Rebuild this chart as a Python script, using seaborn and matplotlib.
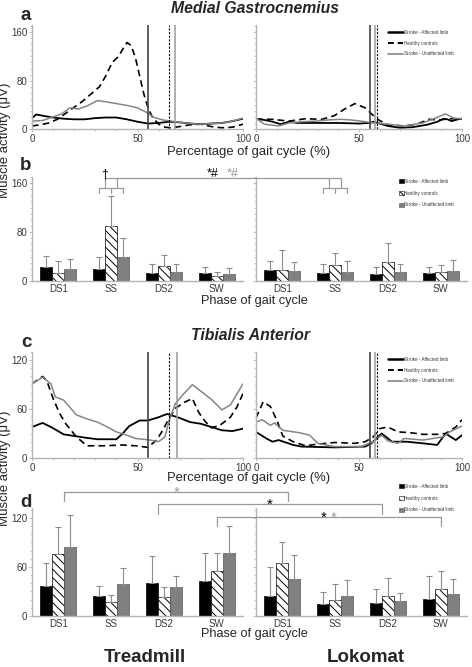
import numpy as np
import pandas as pd
import matplotlib
matplotlib.use("Agg")
import matplotlib.pyplot as plt
import seaborn as sns
from matplotlib.lines import Line2D
from matplotlib.patches import Patch
from matplotlib.ticker import MultipleLocator

# ---- data ----
groups = ["Stroke - Affected limb", "Healthy controls", "Stroke - Unaffected limb"]
phases = ["DS1", "SS", "DS2", "SW"]

# a: Medial gastrocnemius, treadmill
mg_t_aff_x = [0, 2, 5, 10, 15, 20, 25, 30, 35, 40, 45, 50, 55, 60, 65, 70, 75, 80, 85, 90, 95, 100]
mg_t_aff_y = [18, 24, 22, 19, 17, 16, 16, 18, 19, 19, 16, 12, 9, 10, 12, 11, 9, 8, 9, 10, 13, 17]
mg_t_hc_x = [0, 4, 8, 12, 16, 20, 24, 28, 32, 35, 38, 41, 43, 45, 47, 49, 51, 53, 55, 57, 60, 63, 66, 70, 75, 80, 85, 90, 95, 100]
mg_t_hc_y = [5, 7, 10, 16, 26, 36, 46, 58, 70, 88, 110, 120, 132, 143, 138, 118, 88, 58, 35, 20, 8, 3, 2, 4, 7, 8, 4, 2, 3, 8]
mg_t_un_x = [0, 5, 10, 14, 18, 22, 26, 31, 35, 40, 45, 50, 54, 58, 62, 66, 70, 75, 80, 85, 90, 95, 100]
mg_t_un_y = [13, 14, 20, 25, 35, 33, 38, 47, 45, 42, 39, 35, 28, 19, 15, 13, 11, 9, 8, 9, 10, 13, 18]

# a: Medial gastrocnemius, lokomat
mg_l_aff_x = [0, 4, 8, 12, 16, 20, 25, 30, 40, 50, 55, 57, 60, 64, 70, 76, 83, 88, 91, 93, 95, 98, 100]
mg_l_aff_y = [17, 15, 12, 8, 12, 10, 10, 10, 10, 9, 10, 12, 9, 5, 2, 3, 7, 12, 17, 16, 13, 16, 17]
mg_l_hc_x = [0, 8, 16, 24, 32, 38, 43, 48, 53, 57, 60, 64, 72, 78, 84, 89, 94, 100]
mg_l_hc_y = [16, 16, 13, 17, 16, 22, 33, 42, 35, 22, 14, 7, 5, 8, 16, 15, 17, 17]
mg_l_un_x = [0, 4, 11, 16, 22, 29, 35, 41, 46, 51, 57, 64, 72, 81, 87, 92, 96, 100]
mg_l_un_y = [18, 8, 5, 10, 12, 13, 15, 16, 15, 13, 10, 8, 5, 10, 18, 25, 18, 17]

# c: Tibialis anterior, treadmill
ta_t_aff_x = [0, 5, 9, 15, 20, 25, 31, 40, 43, 46, 51, 55, 60, 64, 69, 75, 80, 85, 90, 95, 100]
ta_t_aff_y = [38, 43, 38, 29, 27, 25, 23, 23, 30, 39, 46, 46, 50, 54, 50, 44, 42, 38, 34, 33, 36]
ta_t_hc_x = [0, 5, 7, 10, 13, 16, 21, 26, 34, 43, 49, 55, 59, 62, 64, 68, 72, 76, 79, 82, 85, 89, 94, 97, 100]
ta_t_hc_y = [91, 100, 95, 73, 55, 42, 26, 15, 15, 16, 15, 13, 22, 34, 44, 61, 68, 73, 56, 45, 37, 40, 50, 62, 79]
ta_t_un_x = [0, 5, 9, 11, 15, 21, 26, 31, 35, 40, 45, 49, 56, 60, 63, 65, 68, 72, 76, 80, 85, 90, 94, 97, 100]
ta_t_un_y = [91, 99, 91, 75, 71, 53, 48, 44, 39, 32, 28, 24, 22, 20, 26, 46, 67, 79, 90, 82, 72, 59, 65, 78, 91]

# c: Tibialis anterior, lokomat
ta_l_aff_x = [0, 5, 8, 11, 18, 22, 38, 53, 56, 61, 66, 73, 81, 88, 92, 97, 100]
ta_l_aff_y = [32, 24, 20, 22, 16, 14, 13, 14, 18, 30, 20, 20, 18, 16, 30, 22, 28]
ta_l_hc_x = [0, 3.5, 7, 10, 13, 18, 24, 30, 38, 48, 53, 57, 60, 64, 69, 75, 81, 88, 92, 97, 100]
ta_l_hc_y = [49, 69, 63, 47, 27, 20, 15, 17, 19, 18, 20, 26, 36, 38, 32, 31, 29, 29, 30, 38, 47]
ta_l_un_x = [0, 3, 7, 9, 13, 21, 26, 30, 38, 51, 54, 57, 61, 64, 69, 72, 81, 91, 94, 99, 100]
ta_l_un_y = [44, 47, 40, 43, 34, 31, 28, 18, 14, 14, 17, 20, 28, 21, 18, 24, 22, 26, 32, 38, 39]

# toe-off markers (affected, healthy, unaffected)
mg_t_toeoff = [55, 65, 68]
mg_l_toeoff = [55.5, 58.5, 58]
ta_t_toeoff = [55, 65, 68.5]
ta_l_toeoff = [55.5, 58.5, 58]

# b: MG bars, mean and upper SD
mg_t_mean = [[23, 20, 13, 13], [13, 90, 24, 8], [20, 39, 15, 11]]
mg_t_sd = [[18, 19, 15, 10], [20, 49, 18, 7], [16, 31, 13, 10]]
mg_l_mean = [[18, 13, 11, 13], [18, 26, 31, 15], [17, 15, 15, 17]]
mg_l_sd = [[15, 14, 12, 10], [33, 19, 31, 11], [14, 18, 13, 17]]

# d: TA bars
ta_t_mean = [[37, 24, 40, 43], [76, 17, 23, 55], [84, 39, 36, 77]]
ta_t_sd = [[28, 13, 33, 34], [33, 9, 13, 22], [40, 20, 13, 33]]
ta_l_mean = [[24, 15, 16, 21], [65, 20, 24, 33], [45, 24, 18, 27]]
ta_l_sd = [[36, 14, 17, 28], [26, 19, 23, 22], [30, 20, 10, 18]]

# ---- style ----
sns.set_theme(style="ticks")
plt.rcParams['font.family'] = ['Liberation Sans', 'DejaVu Sans']
plt.rcParams['hatch.linewidth'] = 0.7

W, H = 472, 667
fig = plt.figure(figsize=(W / 100, H / 100), dpi=100)

GREY = '#858585'
AXC = '#b4b4b4'
BW = 0.68


def box(l, t, r, b):
    return [l / W, 1 - b / H, (r - l) / W, (b - t) / H]


def style(ax, ytop, major, labels):
    ax.set_ylim(0, ytop)
    ax.yaxis.set_major_locator(MultipleLocator(major))
    ax.yaxis.set_minor_locator(MultipleLocator(10))
    sns.despine(ax=ax)
    for s in ['left', 'bottom']:
        ax.spines[s].set_color(AXC)
        ax.spines[s].set_linewidth(1.0)
    ax.tick_params(which='both', direction='out', color=AXC, labelsize=7,
                   labelcolor='#3a3a3a', pad=1)
    ax.tick_params(which='major', length=2.5, width=0.6)
    ax.tick_params(which='minor', length=1.5, width=0.5)
    ax.set_xlabel('')
    ax.set_ylabel('')
    if not labels:
        ax.tick_params(axis='y', labelleft=False)


def lines_panel(ax, series, toeoff, ytop, major, labels):
    cols = ['black', 'black', GREY]
    lws = [1.3, 1.2, 1.1]
    for i, (xs, ys) in enumerate(series):
        sns.lineplot(x=xs, y=ys, ax=ax, color=cols[i], linewidth=lws[i], legend=False)
        if i == 1:
            ax.lines[-1].set_dashes([4, 2.5])
    ax.axvline(toeoff[0], color='#444444', lw=1.2)
    ax.axvline(toeoff[1], color='black', lw=0.8, ls=(0, (2, 1.3)))
    ax.axvline(toeoff[2], color='#9a9a9a', lw=1.1)
    ax.set_xlim(0, 100)
    ax.xaxis.set_major_locator(MultipleLocator(50))
    ax.xaxis.set_minor_locator(MultipleLocator(10))
    style(ax, ytop, major, labels)


def bars_panel(ax, means, sds, ytop, major, labels):
    df = pd.DataFrame({
        'phase': phases * 3,
        'group': [g for g in groups for _ in phases],
        'value': [v for row in means for v in row],
    })
    sns.barplot(data=df, x='phase', y='value', hue='group', hue_order=groups,
                order=phases, palette=['black', 'white', '#808080'], width=BW,
                saturation=1, errorbar=None, legend=False, ax=ax,
                edgecolor='black', linewidth=0.5)
    bar_sets = list(ax.containers)[:3]
    for i, cont in enumerate(bar_sets):
        xs = [b.get_x() + b.get_width() / 2 for b in cont]
        ys = [b.get_height() for b in cont]
        if i == 1:
            for b in cont:
                b.set_hatch('\\\\\\\\')
        if i == 2:
            for b in cont:
                b.set_edgecolor('#555555')
        ax.errorbar(xs, ys, yerr=[np.zeros(len(ys)), sds[i]], fmt='none',
                    ecolor='#8c8c8c', elinewidth=0.8, capsize=2, capthick=0.8)
    ax.set_xlim(-0.5, len(phases) - 0.5)
    style(ax, ytop, major, labels)
    ax.tick_params(axis='x', which='both', length=0, pad=2)


axA1 = fig.add_axes(box(32, 25, 243, 129))
axA2 = fig.add_axes(box(256, 25, 462, 129))
axB1 = fig.add_axes(box(32, 177, 243, 281))
axB2 = fig.add_axes(box(256, 177, 467, 281))
axC1 = fig.add_axes(box(32, 352, 243, 458))
axC2 = fig.add_axes(box(256, 352, 462, 458))
axD1 = fig.add_axes(box(32, 508, 243, 616))
axD2 = fig.add_axes(box(256, 508, 467, 616))

lines_panel(axA1, [(mg_t_aff_x, mg_t_aff_y), (mg_t_hc_x, mg_t_hc_y), (mg_t_un_x, mg_t_un_y)],
            mg_t_toeoff, 172, 80, True)
lines_panel(axA2, [(mg_l_aff_x, mg_l_aff_y), (mg_l_hc_x, mg_l_hc_y), (mg_l_un_x, mg_l_un_y)],
            mg_l_toeoff, 172, 80, False)
lines_panel(axC1, [(ta_t_aff_x, ta_t_aff_y), (ta_t_hc_x, ta_t_hc_y), (ta_t_un_x, ta_t_un_y)],
            ta_t_toeoff, 130, 60, True)
lines_panel(axC2, [(ta_l_aff_x, ta_l_aff_y), (ta_l_hc_x, ta_l_hc_y), (ta_l_un_x, ta_l_un_y)],
            ta_l_toeoff, 130, 60, False)

bars_panel(axB1, mg_t_mean, mg_t_sd, 170, 80, True)
bars_panel(axB2, mg_l_mean, mg_l_sd, 170, 80, False)
bars_panel(axD1, ta_t_mean, ta_t_sd, 132, 60, True)
bars_panel(axD2, ta_l_mean, ta_l_sd, 132, 60, False)


# ---- significance brackets ----
def fpt(ax, x, y):
    return fig.transFigure.inverted().transform(ax.transData.transform((x, y)))


def seg(ax1, p1, ax2, p2, color='#9a9a9a'):
    a = fpt(ax1, *p1)
    b = fpt(ax2, *p2)
    fig.add_artist(Line2D([a[0], b[0]], [a[1], b[1]], transform=fig.transFigure,
                          color=color, lw=0.9))


bw = BW / 3
# b: SS comparison between the two conditions
for ax in (axB1, axB2):
    seg(ax, (1 - bw, 152), ax, (1 + bw, 152))
    for xx in (1 - bw, 1, 1 + bw):
        seg(ax, (xx, 152), ax, (xx, 144))
    for xx in (1 - bw / 2, 1 + bw / 2):
        seg(ax, (xx, 152), ax, (xx, 168))
seg(axB1, (1 - bw / 2, 168), axB2, (1 + bw / 2, 168))
p = fpt(axB1, 1 - bw / 2, 168)
fig.text(p[0], p[1] + 1 / H, '†', ha='center', va='baseline', fontsize=9, color='black')
l = fpt(axB1, 1 - bw / 2, 168)
r = fpt(axB2, 1 + bw / 2, 168)
mid = (l[0] + r[0]) / 2
fig.text(mid - 10 / W, l[1] + 1 / H, '*#', ha='center', va='baseline', fontsize=9, color='black')
fig.text(mid + 10 / W, l[1] + 1 / H, '*#', ha='center', va='baseline', fontsize=9, color='#9a9a9a')

# d: treadmill vs lokomat
d_brackets = [(0 + bw / 2, 152, 140, [('*', '#9a9a9a', 0)]),
              (2 - bw / 2, 137, 125, [('*', 'black', 0)]),
              (3, 121, 110, [('*', 'black', -5), ('*', '#9a9a9a', 5)])]
for xx, top, bot, stars in d_brackets:
    seg(axD1, (xx, top), axD2, (xx, top))
    seg(axD1, (xx, top), axD1, (xx, bot))
    seg(axD2, (xx, top), axD2, (xx, bot))
    a = fpt(axD1, xx, top)
    b = fpt(axD2, xx, top)
    m = (a[0] + b[0]) / 2
    for s, c, off in stars:
        fig.text(m + off / W, a[1] - 5 / H, s, ha='center', va='baseline', fontsize=11, color=c)

# ---- legends ----
line_handles = [Line2D([0], [0], color='black', lw=1.8),
                Line2D([0], [0], color='black', lw=1.4, ls=(0, (3, 2))),
                Line2D([0], [0], color=GREY, lw=1.2)]
bar_handles = [Patch(facecolor='black', edgecolor='black', lw=0.4),
               Patch(facecolor='white', edgecolor='black', hatch='\\\\\\\\', lw=0.4),
               Patch(facecolor='#808080', edgecolor='#555555', lw=0.4)]
for top in (30, 357):
    fig.legend(line_handles, groups, loc='upper left', bbox_to_anchor=(388 / W, 1 - top / H),
               frameon=False, fontsize=3.3, handlelength=3.2, handletextpad=0.2,
               labelspacing=1.25, borderpad=0, borderaxespad=0, labelcolor='#333333')
for top in (179, 484):
    fig.legend(bar_handles, groups, loc='upper left', bbox_to_anchor=(399 / W, 1 - top / H),
               frameon=False, fontsize=3.3, handlelength=1.0, handleheight=1.0,
               handletextpad=0.15, labelspacing=1.45, borderpad=0, borderaxespad=0,
               labelcolor='#333333')

# ---- text ----
def ftext(x, y, s, **kw):
    fig.text(x / W, 1 - y / H, s, **kw)


ftext(255, 13, 'Medial Gastrocnemius', ha='center', va='baseline', fontsize=11.3,
      fontweight='bold', fontstyle='italic')
ftext(250, 340, 'Tibialis Anterior', ha='center', va='baseline', fontsize=11.3,
      fontweight='bold', fontstyle='italic')
for s, y in (('a', 20), ('b', 170), ('c', 347), ('d', 507)):
    ftext(26, y, s, ha='center', va='baseline', fontsize=13.5, fontweight='bold')
for y in (155, 481):
    ftext(249, y, 'Percentage of gait cycle (%)', ha='center', va='baseline', fontsize=9.4)
for y in (304, 637):
    ftext(254, y, 'Phase of gait cycle', ha='center', va='baseline', fontsize=9.2)
ftext(5, 140, 'Muscle activity (μV)', ha='center', va='center', rotation=90, fontsize=9.5)
ftext(5, 468, 'Muscle activity (μV)', ha='center', va='center', rotation=90, fontsize=9.5)
ftext(145, 662, 'Treadmill', ha='center', va='baseline', fontsize=13.5, fontweight='bold')
ftext(366, 662, 'Lokomat', ha='center', va='baseline', fontsize=13.5, fontweight='bold')

fig.savefig('out.png', dpi=100)
